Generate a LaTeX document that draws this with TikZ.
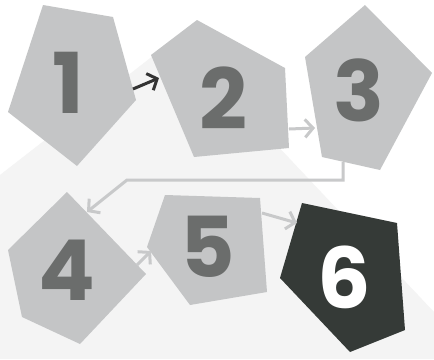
\documentclass[tikz,border=0pt]{standalone}
\usepackage{fontspec}
\setmainfont{Poppins}
\usetikzlibrary{arrows.meta}
\definecolor{bgl}{HTML}{F4F4F4}
\definecolor{pgr}{HTML}{C4C5C6}
\definecolor{lab}{HTML}{6B6D6C}
\definecolor{dk}{HTML}{353A37}
\definecolor{arl}{HTML}{C8C9CA}
\definecolor{ard}{HTML}{333333}
\tikzset{
  pent/.style={fill=pgr},
  pentdark/.style={fill=dk},
  num/.style={font=\fontsize{84}{84}\selectfont\bfseries, text=lab, inner sep=0pt},
  numw/.style={font=\fontsize{84}{84}\selectfont\bfseries, text=white, inner sep=0pt},
  arrl/.style={draw=arl, line width=3pt, -{Straight Barb[length=8pt,width=18pt,line width=3pt]}},
  arrd/.style={draw=ard, line width=3pt, -{Straight Barb[length=8pt,width=18pt,line width=3pt]}}
}
\begin{document}
\begin{tikzpicture}[x=1pt,y=-1pt]
\useasboundingbox (0,0) rectangle (434,359);
\fill[white] (0,0) rectangle (434,359);
\fill[bgl] (0,175) -- (176,38) -- (434,312) -- (434,359) -- (0,359) -- cycle;
% pentagons
\fill[pent] (43,5) -- (113,17) -- (136,100) -- (77,166) -- (8,112) -- cycle;
\fill[pent] (197,20) -- (285,68) -- (289,148) -- (194,157) -- (151,55) -- cycle;
\fill[pent] (365,5) -- (432,73) -- (380,170) -- (322,157) -- (305,57) -- cycle;
\fill[pent] (67,192) -- (146,274) -- (80,344) -- (22,317) -- (8,250) -- cycle;
\fill[pent] (165,195) -- (260,198) -- (267,292) -- (190,305) -- (147,247) -- cycle;
\fill[pentdark] (302,203) -- (397,223) -- (405,330) -- (350,352) -- (280,278) -- cycle;
% labels
\node[num] (n1) at (68,83) {1};
\node[num] (n2) at (223,98) {2};
\node[num] (n3) at (359,90) {3};
\node[num] (n4) at (67,270) {4};
\node[num] (n5) at (208,247) {5};
\node[numw] (n6) at (344,277) {6};
% connector ends
\coordinate (a1) at (133,89);  \coordinate (b2) at (159,78);
\coordinate (a2) at (289,129); \coordinate (b3) at (315,128);
\coordinate (a3) at (343,162); \coordinate (c3) at (343,180); \coordinate (d3) at (127,180); \coordinate (b4) at (87,212);
\coordinate (a4) at (137,265); \coordinate (b5) at (151,251);
\coordinate (a5) at (262,213); \coordinate (b6) at (297,223);
\draw[arrd] (a1) -- (b2);
\draw[arrl] (a2) -- (b3);
\draw[arrl] (a3) -- (c3) -- (d3) -- (b4);
\draw[arrl] (a4) -- (b5);
\draw[arrl] (a5) -- (b6);
\end{tikzpicture}
\end{document}
